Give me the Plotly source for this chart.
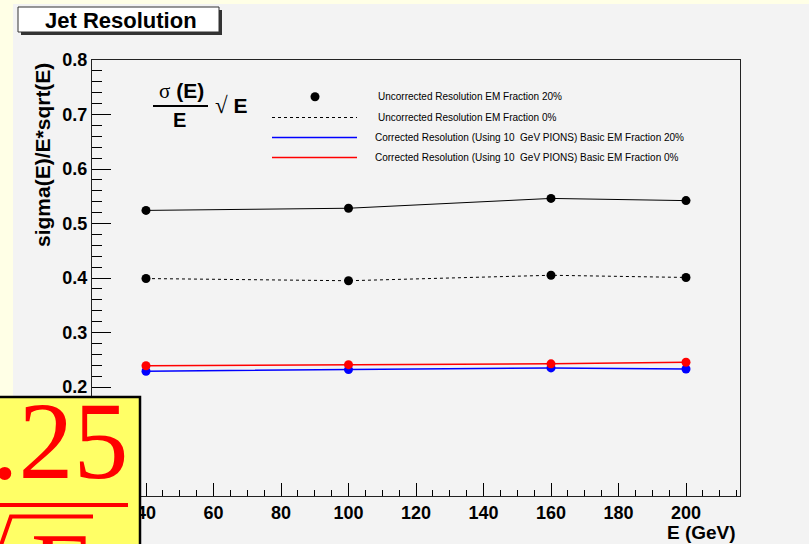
import plotly.graph_objects as go

# ---------------- data ----------------
energy = [40, 100, 160, 200]
uncorr_em20 = [0.524, 0.528, 0.546, 0.542]
uncorr_em0 = [0.399, 0.395, 0.405, 0.401]
corr_em20 = [0.229, 0.232, 0.235, 0.233]
corr_em0 = [0.239, 0.241, 0.2425, 0.2455]

series_names = [
    "Uncorrected Resolution EM Fraction 20%",
    "Uncorrected Resolution EM Fraction 0%",
    "Corrected Resolution (Using 10  GeV PIONS) Basic EM Fraction 20%",
    "Corrected Resolution (Using 10  GeV PIONS) Basic EM Fraction 0%",
]
x_tick_vals = [40, 60, 80, 100, 120, 140, 160, 180, 200]
y_tick_vals = [0.2, 0.3, 0.4, 0.5, 0.6, 0.7, 0.8]

W, H = 809, 544
L, R, T, B = 92, 740, 60, 496


def px(x):
    return (x - L) / (R - L)


def py(y):
    return (B - y) / (B - T)


FONT = "Liberation Sans, Arial, sans-serif"
SERIF = "Liberation Serif, Times New Roman, serif"

fig = go.Figure()

fig.add_trace(go.Scatter(x=energy, y=uncorr_em20, mode="lines+markers",
                         line=dict(color="black", width=1),
                         marker=dict(color="black", size=9), name=series_names[0]))
fig.add_trace(go.Scatter(x=energy, y=uncorr_em0, mode="lines+markers",
                         line=dict(color="black", width=1, dash="3px,3px"),
                         marker=dict(color="black", size=9), name=series_names[1]))
fig.add_trace(go.Scatter(x=energy, y=corr_em20, mode="lines+markers",
                         line=dict(color="#0000ff", width=1.5),
                         marker=dict(color="#0000ff", size=9), name=series_names[2]))
fig.add_trace(go.Scatter(x=energy, y=corr_em0, mode="lines+markers",
                         line=dict(color="#ff0000", width=1.5),
                         marker=dict(color="#ff0000", size=9), name=series_names[3]))

shapes = []
# gray pad
shapes.append(dict(type="rect", xref="paper", yref="paper", layer="below",
                   x0=px(13), x1=px(812), y0=py(548), y1=py(4),
                   fillcolor="#f3f3f3", line=dict(width=0)))
# title box shadow and box
shapes.append(dict(type="rect", xref="paper", yref="paper", layer="above",
                   x0=px(21), x1=px(222), y0=py(35), y1=py(10),
                   fillcolor="#333333", line=dict(width=0)))
shapes.append(dict(type="rect", xref="paper", yref="paper", layer="above",
                   x0=px(18), x1=px(219), y0=py(32), y1=py(7),
                   fillcolor="white", line=dict(color="#333333", width=1)))
# fraction bar of sigma(E)/E
shapes.append(dict(type="line", xref="paper", yref="paper", layer="above",
                   x0=px(153), x1=px(208), y0=py(106), y1=py(106),
                   line=dict(color="black", width=2)))
# legend samples
shapes.append(dict(type="circle", xref="paper", yref="paper", layer="above",
                   x0=px(310.5), x1=px(319.5), y0=py(101.2), y1=py(92.2),
                   fillcolor="black", line=dict(width=0)))
shapes.append(dict(type="line", xref="paper", yref="paper", layer="above",
                   x0=px(272), x1=px(357), y0=py(117.5), y1=py(117.5),
                   line=dict(color="black", width=1, dash="3px,3px")))
shapes.append(dict(type="line", xref="paper", yref="paper", layer="above",
                   x0=px(272), x1=px(357), y0=py(137.5), y1=py(137.5),
                   line=dict(color="#0000ff", width=1.5)))
shapes.append(dict(type="line", xref="paper", yref="paper", layer="above",
                   x0=px(272), x1=px(357), y0=py(157.5), y1=py(157.5),
                   line=dict(color="#ff0000", width=1.5)))
# yellow pasted box
shapes.append(dict(type="rect", xref="paper", yref="paper", layer="above",
                   x0=px(-5), x1=px(140), y0=py(550), y1=py(397),
                   fillcolor="#ffff66", line=dict(color="black", width=2.5)))
shapes.append(dict(type="line", xref="paper", yref="paper", layer="above",
                   x0=px(-2), x1=px(128), y0=py(505), y1=py(505),
                   line=dict(color="#ff0000", width=4)))
shapes.append(dict(type="path", xref="paper", yref="paper", layer="above",
                   path="M %f,%f L %f,%f L %f,%f" % (px(0), py(548), px(11), py(516.5), px(93), py(516.5)),
                   line=dict(color="#ff0000", width=4)))

annotations = []
annotations.append(dict(xref="paper", yref="paper", x=px(121), y=py(20), text="<b>Jet Resolution</b>",
                        showarrow=False, xanchor="center", yanchor="middle",
                        font=dict(family=FONT, size=22, color="black")))
# y-axis title (right aligned to top, ROOT style)
annotations.append(dict(xref="paper", yref="paper", x=px(42), y=py(61),
                        text="<b>sigma(E)/E*sqrt(E)</b>", textangle=-90,
                        showarrow=False, xanchor="center", yanchor="top",
                        font=dict(family=FONT, size=21, color="black")))
annotations.append(dict(xref="paper", yref="paper", x=px(738), y=py(545),
                        text="<b>E (GeV)</b>", showarrow=False, xanchor="right", yanchor="bottom",
                        font=dict(family=FONT, size=19, color="black")))
# formula
annotations.append(dict(xref="paper", yref="paper", x=px(181), y=py(91),
                        text="<span style='font-family:Liberation Serif'>σ</span> <b>(E)</b>",
                        showarrow=False, xanchor="center", yanchor="middle",
                        font=dict(family=FONT, size=21, color="black")))
annotations.append(dict(xref="paper", yref="paper", x=px(179), y=py(119.5),
                        text="<b>E</b>", showarrow=False, xanchor="center", yanchor="middle",
                        font=dict(family=FONT, size=20, color="black")))
annotations.append(dict(xref="paper", yref="paper", x=px(213), y=py(105),
                        text="<span style='font-family:Liberation Serif;font-size:23px'>√</span> <b>E</b>",
                        showarrow=False, xanchor="left", yanchor="middle",
                        font=dict(family=FONT, size=21, color="black")))
# legend texts
legend_y = [96.7, 117.5, 137.5, 157.5]
legend_x = [378, 378, 375, 375]
for name, lx, ly in zip(series_names, legend_x, legend_y):
    annotations.append(dict(xref="paper", yref="paper", x=px(lx - 2), y=py(ly),
                            text=name, showarrow=False, xanchor="left", yanchor="middle",
                            font=dict(family=FONT, size=10, color="black")))
# pasted formula
annotations.append(dict(xref="paper", yref="paper", x=px(-11), y=py(441),
                        text=".25", showarrow=False, xanchor="left", yanchor="middle",
                        font=dict(family=SERIF, size=110, color="#ff0000")))
annotations.append(dict(xref="paper", yref="paper", x=px(29), y=py(570),
                        text="E", showarrow=False, xanchor="left", yanchor="middle",
                        font=dict(family=SERIF, size=105, color="#ff0000")))

fig.update_layout(
    width=W, height=H,
    margin=dict(l=L, r=W - R, t=T, b=H - B, pad=0),
    paper_bgcolor="#ffffe6",
    plot_bgcolor="#f3f3f3",
    showlegend=False,
    shapes=shapes,
    annotations=annotations,
    xaxis=dict(range=[24, 216], tickvals=x_tick_vals, ticks="inside", ticklen=13,
               tickcolor="black", showline=True, linecolor="#222222", linewidth=1,
               mirror=True, showgrid=False, zeroline=False,
               minor=dict(ticks="inside", dtick=5, tick0=0, ticklen=6, tickcolor="black"),
               tickfont=dict(family=FONT, size=18, color="black", weight="bold")),
    yaxis=dict(range=[0, 0.8], tickvals=y_tick_vals, tickformat=".1f", ticks="inside", ticklen=19,
               tickcolor="black", showline=True, linecolor="#222222", linewidth=1,
               mirror=True, showgrid=False, zeroline=False,
               minor=dict(ticks="inside", dtick=0.02, tick0=0, ticklen=10, tickcolor="black"),
               tickfont=dict(family=FONT, size=18, color="black", weight="bold")),
)

fig.write_html("out.html")
